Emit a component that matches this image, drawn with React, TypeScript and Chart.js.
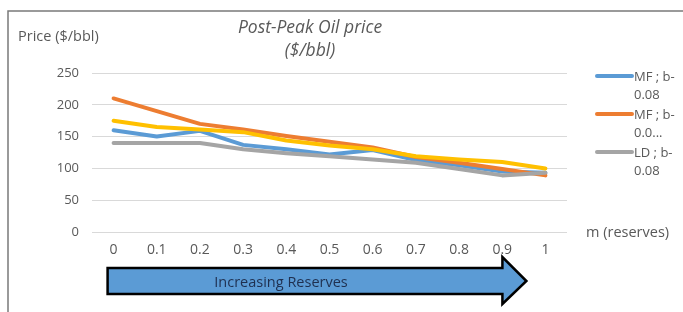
import React, { useEffect, useRef } from "react";
import { Chart, registerables } from "chart.js";

Chart.register(...registerables);

const categories = ["0", "0.1", "0.2", "0.3", "0.4", "0.5", "0.6", "0.7", "0.8", "0.9", "1"];
const yTickValues = [0, 50, 100, 150, 200, 250];

const mfBlue = [160, 150, 159, 137, 130, 122, 129, 113, 105, 95, 93];
const mfOrange = [210, 190, 170, 161, 151, 142, 133, 118, 109, 99, 89];
const ldGray = [140, 140, 140, 130, 124, 119, 114, 109, 99, 89, 93];
const yellowSeries = [175, 165, 161, 157, 144, 136, 130, 119, 114, 110, 100];

const seriesLabels = ["MF ; b-0.08", "MF ; b-0.0...", "LD ; b-0.08", "Series 4"];
const legendLines = [
  ["MF ; b-", "0.08"],
  ["MF ; b-", "0.0..."],
  ["LD ; b-", "0.08"],
];

const titleLines = ["Post-Peak Oil price", "($/bbl)"];
const yAxisTitle = "Price ($/bbl)";
const xAxisTitle = "m (reserves)";
const arrowText = "Increasing Reserves";

const FONT = "'Open Sans', 'Noto Sans', sans-serif";
const TEXT_GREY = "#595959";

const overlayPlugin = {
  id: "overlay",
  beforeDraw(chart: any) {
    const ctx = chart.ctx;
    ctx.save();
    ctx.fillStyle = "#ffffff";
    ctx.fillRect(0, 0, chart.width, chart.height);
    ctx.restore();
  },
  afterDraw(chart: any) {
    const ctx = chart.ctx;
    ctx.save();

    // frame
    ctx.strokeStyle = "#7a7a7a";
    ctx.lineWidth = 1.5;
    ctx.beginPath();
    ctx.moveTo(8, chart.height);
    ctx.lineTo(8, 11);
    ctx.lineTo(chart.width, 11);
    ctx.stroke();

    // title
    ctx.fillStyle = TEXT_GREY;
    ctx.textAlign = "center";
    ctx.textBaseline = "middle";
    ctx.font = `italic 17.5px ${FONT}`;
    ctx.fillText(titleLines[0], 310, 28);
    ctx.fillText(titleLines[1], 310, 51);

    // y axis title
    ctx.textAlign = "left";
    ctx.font = `14.5px ${FONT}`;
    ctx.fillText(yAxisTitle, 18, 37);

    // x axis title
    ctx.fillText(xAxisTitle, 586, 233);

    // legend
    const lx1 = 597;
    const lx2 = 632;
    const ly = [76, 114, 152];
    legendLines.forEach((lines, i) => {
      const ds = chart.data.datasets[i];
      ctx.strokeStyle = ds.borderColor;
      ctx.lineWidth = 4;
      ctx.lineCap = "round";
      ctx.beginPath();
      ctx.moveTo(lx1, ly[i]);
      ctx.lineTo(lx2, ly[i]);
      ctx.stroke();
      ctx.fillStyle = TEXT_GREY;
      ctx.font = `13px ${FONT}`;
      ctx.textAlign = "left";
      ctx.fillText(lines[0], 634, ly[i] + 1);
      ctx.fillText(lines[1], 634, ly[i] + 19);
    });

    // arrow
    const xs = chart.scales.x;
    const left = xs.getPixelForValue(0) - 6;
    const tip = xs.getPixelForValue(10) - 19;
    const headBase = tip - 24;
    const bodyTop = 268;
    const bodyBot = 294;
    const headTop = 257;
    const headBot = 304;
    const midY = (bodyTop + bodyBot) / 2;
    ctx.beginPath();
    ctx.moveTo(left, bodyTop);
    ctx.lineTo(headBase, bodyTop);
    ctx.lineTo(headBase, headTop);
    ctx.lineTo(tip, midY);
    ctx.lineTo(headBase, headBot);
    ctx.lineTo(headBase, bodyBot);
    ctx.lineTo(left, bodyBot);
    ctx.closePath();
    ctx.fillStyle = "#5b9bd5";
    ctx.fill();
    ctx.lineJoin = "miter";
    ctx.lineWidth = 2.5;
    ctx.strokeStyle = "#000000";
    ctx.stroke();

    ctx.fillStyle = "#1f3050";
    ctx.textAlign = "center";
    ctx.font = `14.5px ${FONT}`;
    ctx.fillText(arrowText, 281, midY + 2);

    ctx.restore();
  },
};

export default function App() {
  const canvasRef = useRef<HTMLCanvasElement | null>(null);

  useEffect(() => {
    if (!canvasRef.current) return;
    const mk = (label: string, data: number[], color: string, order: number) => ({
      label,
      data,
      borderColor: color,
      backgroundColor: color,
      borderWidth: 4,
      pointRadius: 0,
      tension: 0,
      borderCapStyle: "round" as const,
      borderJoinStyle: "round" as const,
      order,
    });
    const chart = new Chart(canvasRef.current, {
      type: "line",
      data: {
        labels: categories,
        datasets: [
          mk(seriesLabels[0], mfBlue, "#5b9bd5", 3),
          mk(seriesLabels[1], mfOrange, "#ed7d31", 2),
          mk(seriesLabels[2], ldGray, "#a5a5a5", 1),
          mk(seriesLabels[3], yellowSeries, "#ffc000", 0),
        ],
      },
      options: {
        animation: false,
        responsive: false,
        layout: { padding: { left: 0, right: 116, top: 73, bottom: 0 } },
        plugins: {
          legend: { display: false },
          title: { display: false },
          tooltip: { enabled: false },
        },
        scales: {
          x: {
            type: "category",
            offset: true,
            grid: { display: false, drawTicks: false },
            border: { display: false },
            ticks: {
              color: TEXT_GREY,
              font: { family: FONT, size: 14 },
              padding: 10,
              maxRotation: 0,
              autoSkip: false,
            },
            afterFit: (scale: any) => {
              scale.height = 80;
            },
          },
          y: {
            min: 0,
            max: 250,
            afterBuildTicks: (scale: any) => {
              scale.ticks = yTickValues.map((v) => ({ value: v }));
            },
            grid: { color: "#d9d9d9", lineWidth: 1, drawTicks: false },
            border: { display: false },
            ticks: {
              color: TEXT_GREY,
              font: { family: FONT, size: 13 },
              padding: 13,
            },
            afterFit: (scale: any) => {
              scale.width = 92;
            },
          },
        },
      },
      plugins: [overlayPlugin],
    });
    return () => chart.destroy();
  }, []);

  return (
    <div style={{ position: "fixed", left: 0, top: 0, width: 683, height: 312, background: "#fff" }}>
      <canvas ref={canvasRef} width={683} height={312} style={{ width: 683, height: 312, display: "block" }} />
    </div>
  );
}
